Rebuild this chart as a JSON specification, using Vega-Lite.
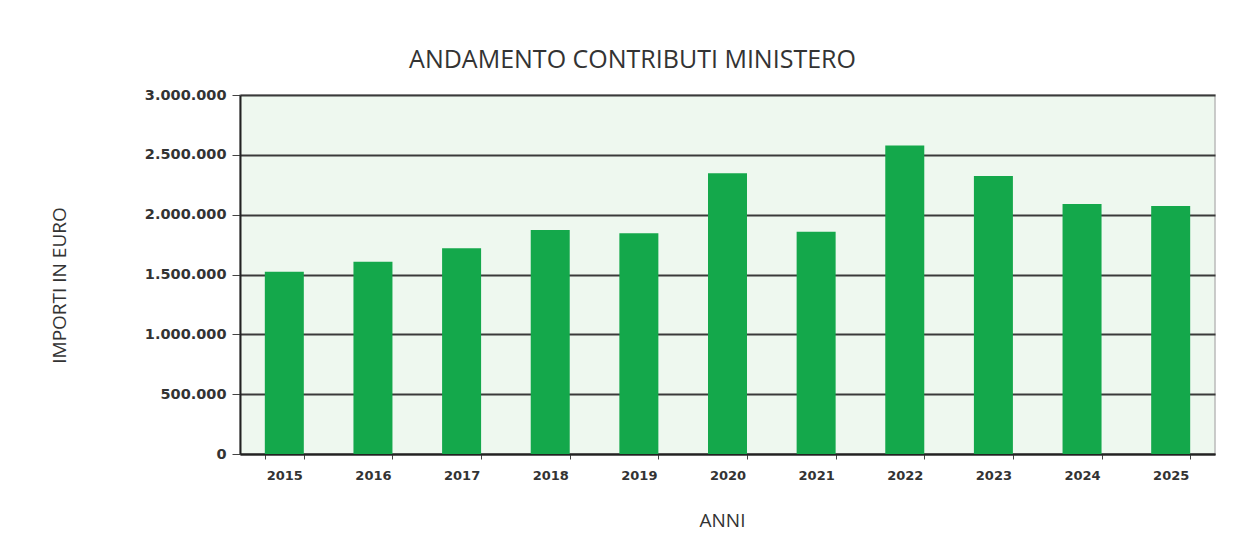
{
  "$schema": "https://vega.github.io/schema/vega-lite/v6.json",
  "autosize": "none",
  "width": 975,
  "height": 359,
  "padding": {"left": 240, "top": 95, "right": 30, "bottom": 88},
  "background": "#ffffff",
  "title": {
    "text": "ANDAMENTO CONTRIBUTI MINISTERO",
    "font": "Open Sans",
    "fontSize": 25,
    "fontWeight": "normal",
    "color": "#333333",
    "anchor": "middle",
    "dx": -95,
    "offset": 14
  },
  "data": {
    "values": [
      {"anno": "2015", "importo": 1523000},
      {"anno": "2016", "importo": 1607000},
      {"anno": "2017", "importo": 1719000},
      {"anno": "2018", "importo": 1872000},
      {"anno": "2019", "importo": 1844000},
      {"anno": "2020", "importo": 2346000},
      {"anno": "2021", "importo": 1858000},
      {"anno": "2022", "importo": 2577000},
      {"anno": "2023", "importo": 2323000},
      {"anno": "2024", "importo": 2089000},
      {"anno": "2025", "importo": 2072000}
    ]
  },
  "mark": {"type": "bar", "color": "#14a84b"},
  "encoding": {
    "x": {
      "field": "anno",
      "type": "ordinal",
      "scale": {"paddingInner": 0.56, "paddingOuter": 0.28},
      "axis": {
        "title": "ANNI",
        "titleFont": "Open Sans",
        "titleFontSize": 19,
        "titleFontWeight": "normal",
        "titleColor": "#333333",
        "titlePadding": 29,
        "titleX": 482,
        "labelAngle": 0,
        "labelFont": "DejaVu Sans",
        "labelFontWeight": "bold",
        "labelFontSize": 13,
        "labelColor": "#333333",
        "labelPadding": 10,
        "domainColor": "#222222",
        "domainWidth": 2,
        "tickColor": "#444444",
        "tickBand": "extent",
        "tickSize": 5
      }
    },
    "y": {
      "field": "importo",
      "type": "quantitative",
      "scale": {"domain": [0, 3000000], "nice": false},
      "axis": {
        "title": "IMPORTI IN EURO",
        "titleFont": "Open Sans",
        "titleFontSize": 19,
        "titleFontWeight": "normal",
        "titleColor": "#333333",
        "titlePadding": 75,
        "titleY": 190,
        "values": [0, 500000, 1000000, 1500000, 2000000, 2500000, 3000000],
        "labelExpr": "replace(format(datum.value, ','), /,/g, '.')",
        "labelFont": "DejaVu Sans",
        "labelFontWeight": "bold",
        "labelFontSize": 14.5,
        "labelColor": "#333333",
        "labelPadding": 6,
        "gridColor": "#3a3a3a",
        "gridWidth": 1.8,
        "domainColor": "#222222",
        "domainWidth": 2,
        "tickColor": "#444444",
        "tickSize": 8
      }
    }
  },
  "config": {
    "view": {"fill": "#eef8ef", "stroke": "#bbbbbb", "strokeWidth": 1.5}
  }
}
